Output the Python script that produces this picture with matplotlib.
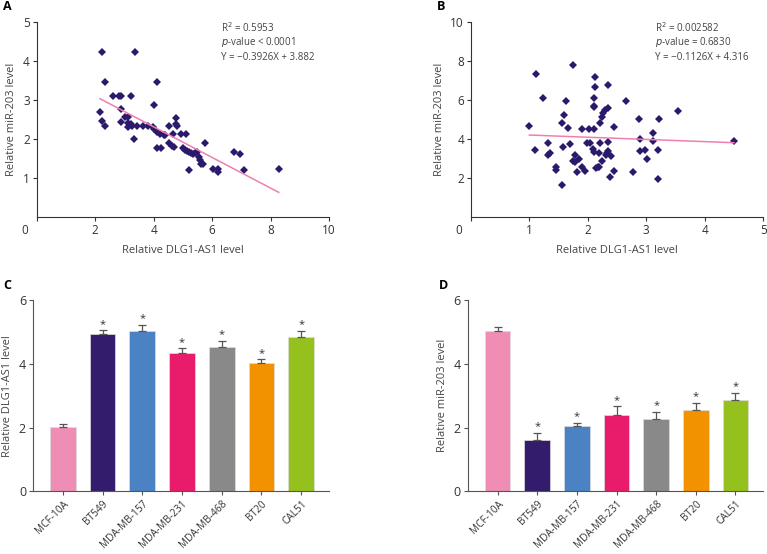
import matplotlib
matplotlib.use('Agg')
from matplotlib import pyplot as plt

plt.rcParams['font.family'] = ['Open Sans', 'DejaVu Sans']

# ----- DATA ----- #
# panel A: DLG1-AS1 vs miR-203
a_x = [2.22, 3.36, 2.33, 4.10, 2.60, 2.81, 2.87, 3.22, 2.16, 2.22, 2.35, 2.89, 2.87, 3.03,
       3.11, 3.12, 3.12, 3.21, 3.25, 3.33, 3.44, 3.62, 3.82, 3.99, 4.02, 4.10, 4.00, 4.10,
       4.24, 4.21, 4.35, 4.40, 4.53, 4.53, 4.61, 4.65, 4.71, 4.76, 4.76, 4.79, 4.95, 5.10,
       4.99, 5.08, 5.13, 5.21, 5.29, 5.35, 5.42, 5.47, 5.55, 5.58, 5.63, 5.68, 5.22, 5.77,
       6.04, 6.20, 6.21, 6.75, 6.96, 7.08, 8.28]
a_y = [4.23, 4.23, 3.46, 3.45, 3.11, 3.11, 3.11, 3.11, 2.70, 2.46, 2.33, 2.78, 2.44, 2.56,
       2.56, 2.42, 2.30, 2.38, 2.33, 1.99, 2.33, 2.33, 2.33, 2.32, 2.25, 2.19, 2.87, 1.78,
       1.78, 2.12, 2.11, 2.11, 2.33, 1.89, 1.83, 2.12, 1.80, 2.55, 2.38, 2.33, 2.12, 2.12,
       1.78, 1.73, 1.70, 1.66, 1.63, 1.61, 1.63, 1.67, 1.53, 1.46, 1.35, 1.35, 1.20, 1.89,
       1.23, 1.23, 1.16, 1.67, 1.62, 1.20, 1.23]
a_fit = (-0.3926, 3.882)

# panel B
b_x = [1.00, 1.12, 1.09, 1.23, 1.31, 1.32, 1.35, 1.45, 1.45, 1.55, 1.57, 1.56, 1.59, 1.62,
       1.66, 1.70, 1.75, 1.75, 1.78, 1.78, 1.85, 1.82, 1.90, 1.90, 1.96, 1.99, 2.02, 2.04,
       2.09, 2.10, 2.10, 2.10, 2.11, 2.10, 2.12, 2.12, 2.14, 2.17, 2.19, 2.19, 2.21, 2.21,
       2.25, 2.26, 2.29, 2.25, 2.31, 2.33, 2.34, 2.34, 2.34, 2.34, 2.38, 2.39, 2.45, 2.45,
       2.66, 2.78, 2.87, 2.90, 2.90, 2.98, 3.02, 3.11, 3.11, 3.20, 3.20, 3.22, 3.55, 4.50]
b_y = [4.67, 7.32, 3.46, 6.09, 3.77, 3.17, 3.26, 2.57, 2.40, 4.80, 3.60, 1.66, 5.21, 5.95,
       4.55, 3.72, 7.80, 2.85, 2.80, 3.20, 2.98, 2.30, 4.52, 2.54, 2.37, 3.79, 4.52, 3.79,
       3.50, 3.33, 6.12, 5.69, 5.66, 4.52, 7.20, 6.65, 2.52, 2.57, 3.26, 2.57, 3.82, 4.80,
       5.14, 5.32, 5.47, 2.88, 3.20, 3.26, 3.86, 3.38, 6.75, 5.61, 2.06, 3.12, 4.60, 2.35,
       5.97, 2.33, 5.01, 3.98, 3.38, 3.43, 2.98, 4.29, 3.89, 3.43, 1.97, 5.01, 5.45, 3.89]
b_fit = (-0.1126, 4.316)

# panels C and D
cells = ['MCF-10A', 'BT549', 'MDA-MB-157', 'MDA-MB-231', 'MDA-MB-468', 'BT20', 'CAL51']
dlg1 = [2.03, 4.94, 5.04, 4.34, 4.54, 4.03, 4.84]
dlg1_err = [0.08, 0.12, 0.19, 0.14, 0.19, 0.11, 0.20]
mir203 = [5.03, 1.60, 2.04, 2.41, 2.26, 2.55, 2.87]
mir203_err = [0.12, 0.24, 0.11, 0.26, 0.24, 0.23, 0.22]
bar_colors = ['#F08DB5', '#331C6B', '#4A82C4', '#E81C6A', '#898989', '#F39200', '#95C11F']

txt = '#444444'
fs = 7

fig = plt.figure(figsize=(7.67, 5.54), dpi=100)


def scatter_panel(rect, xs, ys, fit, xlim, xticks, ylim, yticks, stats, letter, lx):
    ax = fig.add_axes(rect)
    ax.plot(xs, ys, 'D', color='#2B1A6B', markersize=3.8, markeredgewidth=0)
    x0, x1 = min(xs), max(xs)
    ax.plot([x0, x1], [fit[0] * x0 + fit[1], fit[0] * x1 + fit[1]], color='#F07FB0', lw=1.1)
    ax.set_xlim(xlim)
    ax.set_ylim(ylim)
    ax.set_xticks(xticks)
    ax.set_xticklabels([''] + [str(t) for t in xticks[1:]])
    ax.set_yticks(yticks)
    for s in ['top', 'right']:
        ax.spines[s].set_visible(False)
    for s in ['left', 'bottom']:
        ax.spines[s].set_color('#333333')
        ax.spines[s].set_linewidth(0.8)
    ax.tick_params(direction='out', length=3, width=0.8, color='#333333',
                   labelsize=fs + 1.5, labelcolor='#333333', pad=2)
    ax.annotate('0', xy=(0, 0), xycoords='axes fraction', xytext=(-9, -10),
                textcoords='offset points', fontsize=fs + 1.5, color='#333333',
                ha='center', va='center')
    ax.set_xlabel('Relative DLG1-AS1 level', fontsize=fs + 1, color=txt, labelpad=6)
    ax.set_ylabel('Relative miR-203 level', fontsize=fs + 1, color=txt, labelpad=4)
    for i, s in enumerate(stats):
        ax.text(0.63, 0.97 - i * 0.075, s, transform=ax.transAxes, fontsize=fs,
                color=txt, va='center', ha='left')
    fig.text(lx, 0.988, letter, fontsize=9, fontweight='bold', va='center', ha='left')
    return ax


scatter_panel([0.048, 0.6083, 0.381, 0.352], a_x, a_y, a_fit, (0, 10), [0, 2, 4, 6, 8, 10],
              (0, 5), [1, 2, 3, 4, 5],
              ['R$^2$ = 0.5953', '$p$-value < 0.0001', 'Y = \u22120.3926X + 3.882'], 'A', 0.004)
scatter_panel([0.614, 0.6083, 0.381, 0.352], b_x, b_y, b_fit, (0, 5), [0, 1, 2, 3, 4, 5],
              (0, 10), [2, 4, 6, 8, 10],
              ['R$^2$ = 0.002582', '$p$-value = 0.6830', 'Y = \u22120.1126X + 4.316'], 'B', 0.569)


def bar_panel(rect, vals, errs, ylabel, letter, lx):
    ax = fig.add_axes(rect)
    pos = list(range(len(cells)))
    ax.bar(pos, vals, width=0.65, color=bar_colors, edgecolor='#dddddd', linewidth=0.5)
    ax.errorbar(pos, vals, yerr=[[0] * len(vals), errs], fmt='none', ecolor='#555555',
                elinewidth=0.9, capsize=3, capthick=0.9)
    for i in range(1, len(cells)):
        ax.text(pos[i], vals[i] + errs[i] + 0.18, '*', ha='center', va='center',
                fontsize=fs + 1, color='#333333')
    ax.set_xlim(-0.75, 6.7)
    ax.set_ylim(0, 6)
    ax.set_yticks([0, 2, 4, 6])
    ax.set_xticks(pos)
    ax.set_xticklabels(cells, rotation=45, ha='right', rotation_mode='anchor')
    for s in ['top', 'right']:
        ax.spines[s].set_visible(False)
    for s in ['left', 'bottom']:
        ax.spines[s].set_color('#555555')
        ax.spines[s].set_linewidth(0.8)
    ax.tick_params(direction='out', length=3, width=0.8, color='#555555',
                   labelcolor='#333333', pad=2)
    ax.tick_params(axis='y', labelsize=fs + 2)
    ax.tick_params(axis='x', labelsize=fs + 0.3, pad=2)
    ax.set_ylabel(ylabel, fontsize=fs + 1, color=txt, labelpad=4)
    fig.text(lx, 0.485, letter, fontsize=9, fontweight='bold', va='center', ha='left')
    return ax


bar_panel([0.043, 0.113, 0.386, 0.3455], dlg1, dlg1_err, 'Relative DLG1-AS1 level', 'C', 0.004)
bar_panel([0.610, 0.113, 0.385, 0.3455], mir203, mir203_err, 'Relative miR-203 level', 'D', 0.572)

fig.savefig('out.png', dpi=100)
